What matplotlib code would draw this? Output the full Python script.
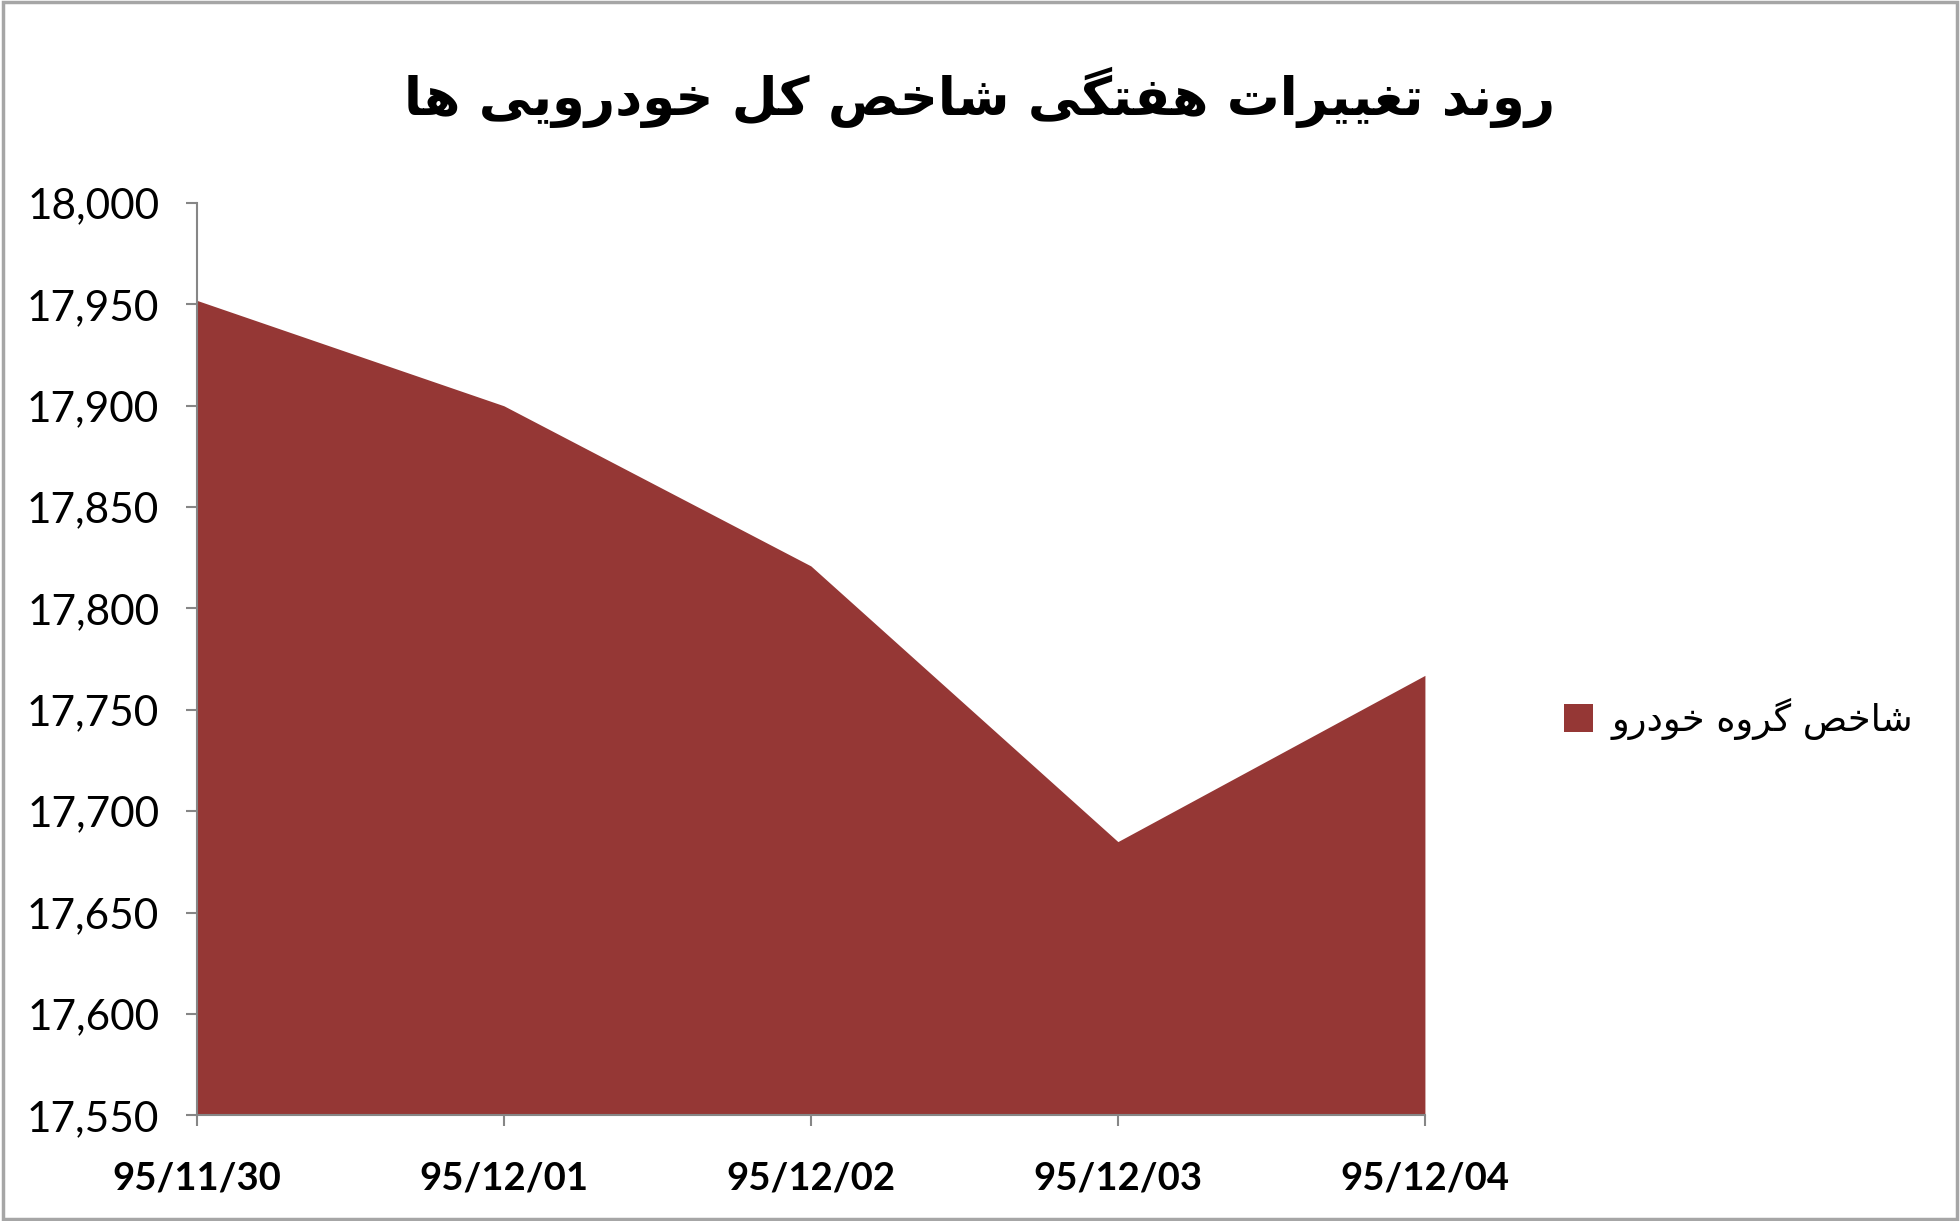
import matplotlib
matplotlib.use("Agg")
import matplotlib.pyplot as plt
import matplotlib.ticker as mticker
from matplotlib.patches import Rectangle

# data
dates = ['95/11/30', '95/12/01', '95/12/02', '95/12/03', '95/12/04']
index_values = [17952, 17900, 17821, 17685, 17767]
y_ticks = [17550, 17600, 17650, 17700, 17750, 17800, 17850, 17900, 17950, 18000]

title_text = 'روند تغییرات هفتگی شاخص کل خودرویی ها'
legend_text = 'شاخص گروه خودرو'

fill_color = '#953735'
axis_color = '#868686'

###########################################################
# minimal persian shaping (no arabic_reshaper available)
# forms: isolated, final, initial, medial
###########################################################
forms = {
    'ا': ('\uFE8D', '\uFE8E', None, None),
    'ت': ('\uFE95', '\uFE96', '\uFE97', '\uFE98'),
    'خ': ('\uFEA5', '\uFEA6', '\uFEA7', '\uFEA8'),
    'د': ('\uFEA9', '\uFEAA', None, None),
    'ر': ('\uFEAD', '\uFEAE', None, None),
    'ش': ('\uFEB5', '\uFEB6', '\uFEB7', '\uFEB8'),
    'ص': ('\uFEB9', '\uFEBA', '\uFEBB', '\uFEBC'),
    'غ': ('\uFECD', '\uFECE', '\uFECF', '\uFED0'),
    'ف': ('\uFED1', '\uFED2', '\uFED3', '\uFED4'),
    'ل': ('\uFEDD', '\uFEDE', '\uFEDF', '\uFEE0'),
    'ن': ('\uFEE5', '\uFEE6', '\uFEE7', '\uFEE8'),
    'ه': ('\uFEE9', '\uFEEA', '\uFEEB', '\uFEEC'),
    'و': ('\uFEED', '\uFEEE', None, None),
    'ی': ('\uFBFC', '\uFBFD', '\uFBFE', '\uFBFF'),
    'ک': ('\uFB8E', '\uFB8F', '\uFB90', '\uFB91'),
    'گ': ('\uFB92', '\uFB93', '\uFB94', '\uFB95'),
}


def dual(c):
    return c in forms and forms[c][2] is not None


def shape(text):
    out = []
    for i, c in enumerate(text):
        if c not in forms:
            out.append(c)
            continue
        prev_c = text[i - 1] if i > 0 else ''
        next_c = text[i + 1] if i < len(text) - 1 else ''
        join_prev = dual(prev_c)
        join_next = dual(c) and next_c in forms
        if join_prev and join_next:
            out.append(forms[c][3])
        elif join_prev:
            out.append(forms[c][1])
        elif join_next:
            out.append(forms[c][2])
        else:
            out.append(forms[c][0])
    # right to left -> visual order
    return ''.join(out[::-1])


fig = plt.figure(figsize=(19.6, 12.21), dpi=100)
ax = fig.add_axes([0.1004, 0.0866, 0.6266, 0.7471])

x = list(range(len(dates)))
ax.fill_between(x, index_values, y_ticks[0], color=fill_color, linewidth=0)

ax.set_xlim(0, len(dates) - 1)
ax.set_ylim(y_ticks[0], y_ticks[-1])
ax.set_xticks(x)
ax.set_xticklabels(dates, fontsize=27.5, fontweight='bold', family=['Lato', 'DejaVu Sans'])
ax.set_yticks(y_ticks)
ax.yaxis.set_major_formatter(mticker.FuncFormatter(lambda v, p: '{:,.0f}'.format(v)))
for lab in ax.get_yticklabels():
    lab.set_fontsize(30.5)
    lab.set_family(['Lato', 'DejaVu Sans'])

for side in ['top', 'right']:
    ax.spines[side].set_visible(False)
for side in ['left', 'bottom']:
    ax.spines[side].set_color(axis_color)
    ax.spines[side].set_linewidth(1.5)
ax.tick_params(axis='both', colors=axis_color, length=8, width=1.5, labelcolor='black')
ax.tick_params(axis='x', pad=25)
ax.tick_params(axis='y', pad=19)
ax.set_zorder(1)

# title
fig.text(0.5, 0.92, shape(title_text), ha='center', va='center',
         fontsize=38, fontweight='bold', family='DejaVu Sans')

# legend
handle = Rectangle((0, 0), 1, 1, facecolor=fill_color, edgecolor='none')
fig.legend([handle], [shape(legend_text)], loc='center left',
           bbox_to_anchor=(0.781, 0.411), frameon=False,
           prop={'family': 'DejaVu Sans', 'size': 26.5},
           handlelength=0.8, handleheight=0.8, handletextpad=0.5)

# chart border
fig.patches.append(Rectangle((0.0015, 0.002), 0.997, 0.996, transform=fig.transFigure,
                             fill=False, edgecolor='#a6a6a6', linewidth=2.5))

fig.savefig('out.png', dpi=100)
